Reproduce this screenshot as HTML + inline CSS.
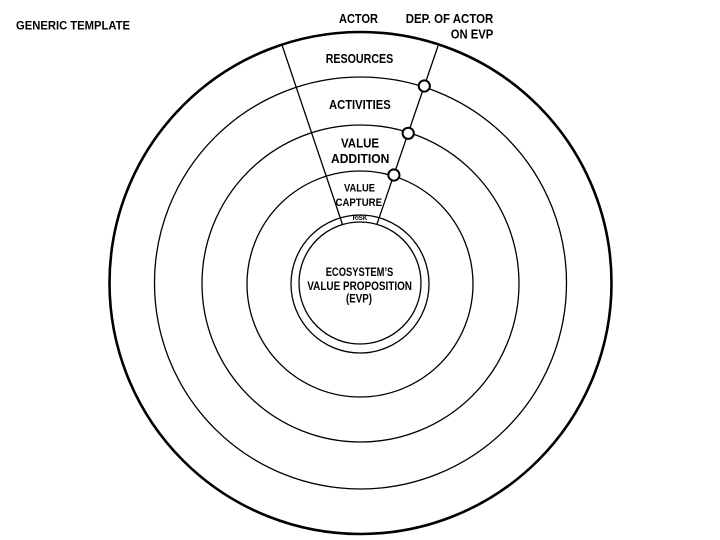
<!DOCTYPE html>
<html>
<head>
<meta charset="utf-8">
<style>
html,body{margin:0;padding:0;background:#fff;}
svg{display:block;}
text{font-family:"Liberation Sans",sans-serif;font-weight:bold;fill:#000;}
</style>
</head>
<body>
<svg width="720" height="540" viewBox="0 0 720 540" xmlns="http://www.w3.org/2000/svg">
  <rect width="720" height="540" fill="#fff"/>
  <!-- circles -->
  <circle cx="360.5" cy="283" r="251" fill="none" stroke="#000" stroke-width="2.6"/>
  <circle cx="360.5" cy="283" r="206" fill="none" stroke="#000" stroke-width="1.3"/>
  <circle cx="360.5" cy="283.5" r="158.5" fill="none" stroke="#000" stroke-width="1.3"/>
  <circle cx="360" cy="284" r="113" fill="none" stroke="#000" stroke-width="1.3"/>
  <circle cx="360" cy="284" r="69" fill="none" stroke="#000" stroke-width="1.3"/>
  <circle cx="360" cy="283" r="61" fill="none" stroke="#000" stroke-width="1.3"/>
  <!-- actor lines -->
  <line x1="282" y1="45" x2="342.5" y2="224.5" stroke="#000" stroke-width="1.3"/>
  <line x1="438" y1="46" x2="377" y2="224" stroke="#000" stroke-width="1.3"/>
  <!-- dependency nodes -->
  <circle cx="424.3" cy="86" r="5.6" fill="#fff" stroke="#000" stroke-width="2"/>
  <circle cx="408.2" cy="133.3" r="5.6" fill="#fff" stroke="#000" stroke-width="2"/>
  <circle cx="393.9" cy="175" r="5.6" fill="#fff" stroke="#000" stroke-width="2"/>
  <!-- labels -->
  <text x="16" y="29.3" font-size="12" textLength="114" lengthAdjust="spacingAndGlyphs">GENERIC TEMPLATE</text>
  <text x="339" y="23" font-size="13" textLength="39" lengthAdjust="spacingAndGlyphs">ACTOR</text>
  <text x="405.7" y="23" font-size="13" textLength="87.6" lengthAdjust="spacingAndGlyphs">DEP. OF ACTOR</text>
  <text x="450.7" y="38.3" font-size="13" textLength="42.6" lengthAdjust="spacingAndGlyphs">ON EVP</text>
  <text x="325.7" y="63" font-size="12.5" textLength="67.6" lengthAdjust="spacingAndGlyphs">RESOURCES</text>
  <text x="329" y="109" font-size="12.5" textLength="61.7" lengthAdjust="spacingAndGlyphs">ACTIVITIES</text>
  <text x="341" y="147.3" font-size="13" textLength="38" lengthAdjust="spacingAndGlyphs">VALUE</text>
  <text x="331" y="163" font-size="13" textLength="58.3" lengthAdjust="spacingAndGlyphs">ADDITION</text>
  <text x="344" y="191.7" font-size="10.8" textLength="31" lengthAdjust="spacingAndGlyphs">VALUE</text>
  <text x="335.5" y="206" font-size="10.8" textLength="46.5" lengthAdjust="spacingAndGlyphs">CAPTURE</text>
  <text x="352.7" y="220.2" font-size="6" font-weight="normal" textLength="14.6" lengthAdjust="spacingAndGlyphs">RISK</text>
  <text x="325.7" y="276" font-size="11.5" textLength="67.6" lengthAdjust="spacingAndGlyphs">ECOSYSTEM’S</text>
  <text x="307.3" y="290" font-size="11.5" textLength="104.7" lengthAdjust="spacingAndGlyphs">VALUE PROPOSITION</text>
  <text x="346" y="302.5" font-size="11.5" textLength="26" lengthAdjust="spacingAndGlyphs">(EVP)</text>
</svg>
</body>
</html>
